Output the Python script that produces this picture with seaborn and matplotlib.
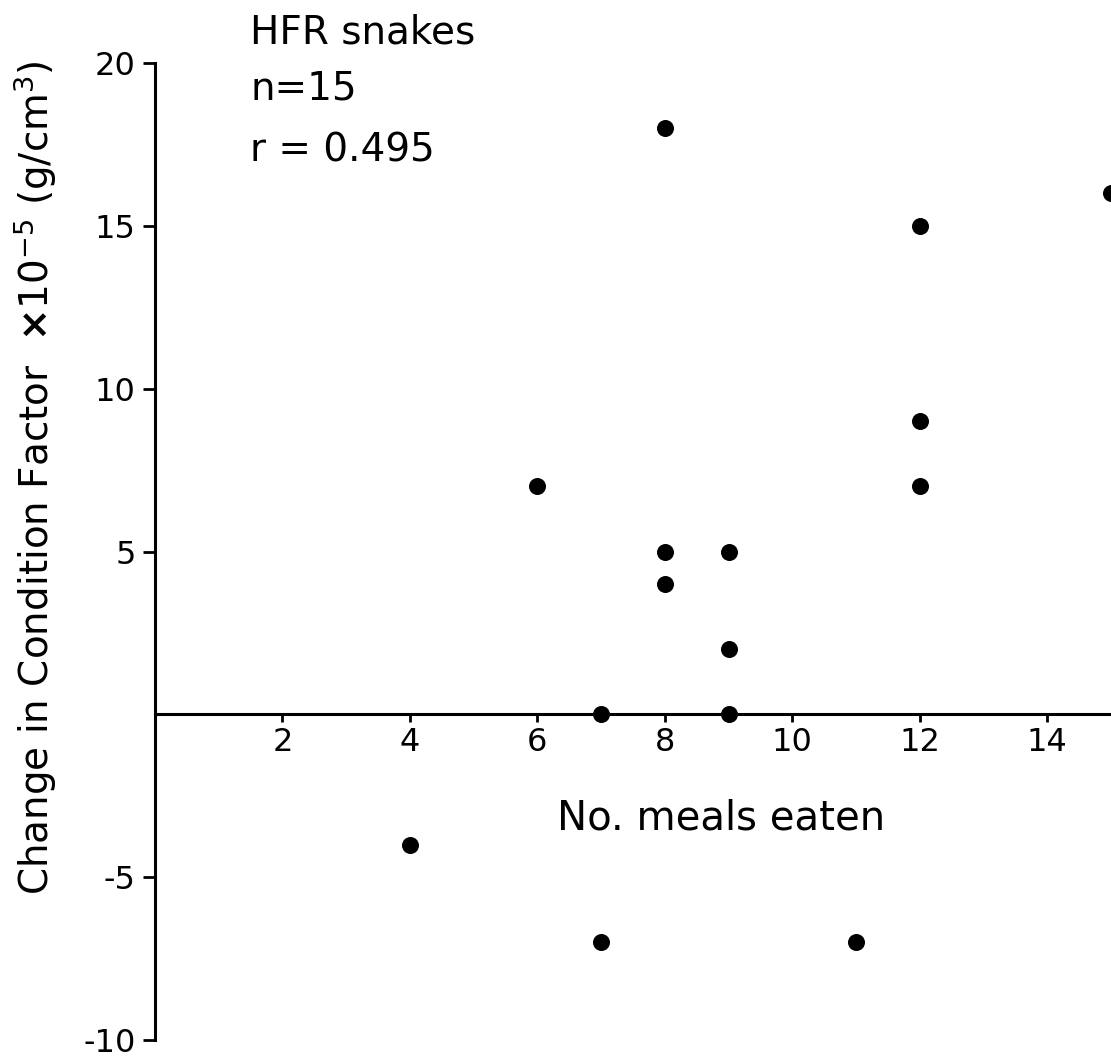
import matplotlib
matplotlib.use("Agg")
import matplotlib.pyplot as plt
import seaborn as sns
import pandas as pd

meals = [4, 6, 7, 7, 8, 8, 8, 9, 9, 9, 11, 12, 12, 12, 15]
change = [-4, 7, 0, -7, 18, 5, 4, 5, 2, 0, -7, 15, 9, 7, 16]
xticks = [2, 4, 6, 8, 10, 12, 14]
yticks = [-10, -5, 5, 10, 15, 20]
notes = ["HFR snakes", "n=15", "r = 0.495"]

sns.set_style("white")
plt.rcParams['font.family'] = ['DejaVu Sans']
plt.rcParams['text.color'] = 'black'
plt.rcParams['axes.labelcolor'] = 'black'
plt.rcParams['xtick.color'] = 'black'
plt.rcParams['ytick.color'] = 'black'

W, H = 1111, 1059
fig = plt.figure(figsize=(W / 100, H / 100), dpi=100)
ax = fig.add_axes([155 / W, 1 - 1040 / H, (W - 155) / W, (1040 - 63) / H])

df = pd.DataFrame({"meals": meals, "change": change})
sns.scatterplot(data=df, x="meals", y="change", ax=ax, color="black",
                s=150, edgecolor="black", linewidth=0, clip_on=True)

ax.set_xlim(0, 15.0)
ax.set_ylim(-10, 20)
ax.spines['top'].set_visible(False)
ax.spines['right'].set_visible(False)
ax.spines['bottom'].set_position(('data', 0))
for sp in ('left', 'bottom'):
    ax.spines[sp].set_linewidth(2.2)
    ax.spines[sp].set_color('black')

ax.set_xticks(xticks)
ax.set_yticks(yticks)
ax.set_xticklabels([str(v) for v in xticks])
ax.set_yticklabels([str(v) for v in yticks])
ax.tick_params(axis='y', direction='out', length=9, width=2, labelsize=23, pad=5, left=True)
ax.tick_params(axis='x', direction='out', length=6, width=2, labelsize=23, pad=3, bottom=True)

ax.set_xlabel("No. meals eaten", fontsize=29)
ax.xaxis.set_label_coords((721 - 155) / (W - 155), (1040 - 798) / (1040 - 63))
ax.set_ylabel(r"Change in Condition Factor  $\mathbf{\times}$10$^{-5}$ (g/cm$^3$)", fontsize=28)
ax.yaxis.set_label_coords((59 - 155) / (W - 155), (1040 - 478) / (1040 - 63))

ys = [32, 88, 151]
for t, yp in zip(notes, ys):
    fig.text(250 / W, 1 - yp / H, t, fontsize=28, ha='left', va='center')

fig.savefig("out.png", dpi=100)
